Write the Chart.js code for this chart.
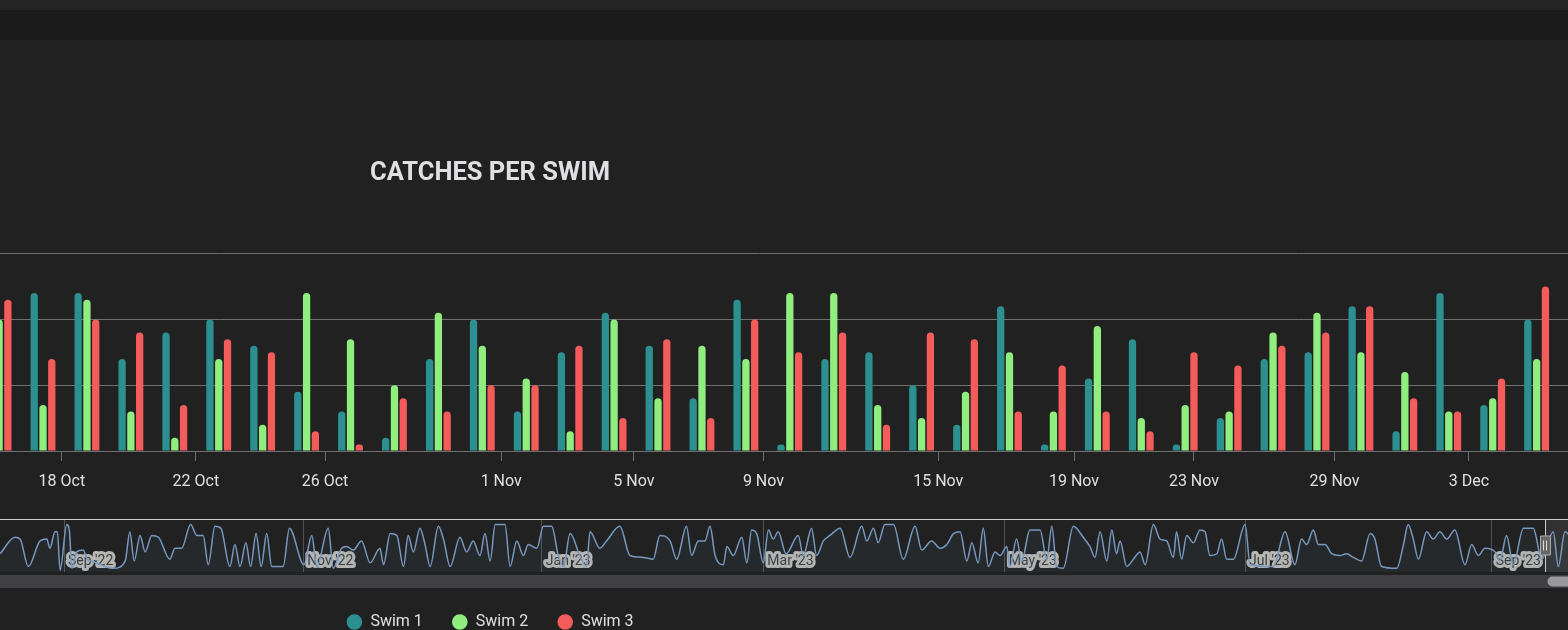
<!DOCTYPE html>
<html>
<head>
<meta charset="utf-8">
<script src="https://cdn.jsdelivr.net/npm/chart.js@4.4.1/dist/chart.umd.min.js"></script>
<style>
  html, body { margin: 0; padding: 0; width: 1568px; height: 630px; overflow: hidden; background: #212121; }
  #topStrip { position: absolute; left: 0; top: 0; width: 1568px; height: 10px; background: #252525; }
  #band { position: absolute; left: 0; top: 10px; width: 1568px; height: 30px; background: #1b1b1b; }
  #main { position: absolute; left: -588px; top: 0; }
  #nav { position: absolute; left: 0; top: 509px; }
</style>
</head>
<body>
<div id="topStrip"></div>
<div id="band"></div>
<canvas id="main" width="2156" height="640"></canvas>
<canvas id="nav" width="1568" height="81"></canvas>
<script>
// catches per swim, one value per swim day (ordinal axis: swim number)
const swim1 = [12, 24, 24, 14, 18, 20, 16, 9, 6, 2, 14, 20, 6, 15, 21, 16, 8, 23, 1, 14, 15, 10, 4, 22, 1, 11, 17, 1, 5, 14, 15, 22, 3, 24, 7, 20];
const swim2 = [20, 7, 23, 6, 2, 14, 4, 24, 17, 10, 21, 16, 11, 3, 20, 8, 16, 14, 24, 24, 7, 5, 9, 15, 6, 19, 5, 7, 6, 18, 21, 15, 12, 6, 8, 14];
const swim3 = [23, 14, 20, 18, 7, 17, 15, 3, 1, 8, 6, 10, 10, 16, 5, 17, 5, 20, 15, 18, 4, 18, 17, 6, 13, 6, 3, 15, 13, 16, 18, 22, 8, 6, 11, 25];

// date ticks, placed along the swim-number axis
const tickLabels = ['18 Oct', '22 Oct', '26 Oct', '1 Nov', '5 Nov', '9 Nov', '15 Nov', '19 Nov', '23 Nov', '29 Nov', '3 Dec'];
const tickAt = [1.43, 4.48, 7.42, 11.43, 14.45, 17.4, 21.38, 24.47, 27.2, 30.4, 33.46];

// visible window of the main chart (swim numbers)
const viewFrom = -13.364;
const viewTo = 35.714;

// navigator: [day since 1 Sep 2022, catches]
const navSeries = [
  [-16.3, 9], [-12.5, 18], [-11.2, 17], [-9.1, 2], [-6.1, 16], [-4.4, 17], [-3.6, 12], [-2.3, 21], [-1.7, 21], [-1.0, 0],
  [0.7, 25], [1.4, 21], [2.0, 1], [3.2, 10], [4.9, 11], [5.9, 6], [7.1, 5], [12.6, 1], [15.6, 5], [16.8, 21],
  [17.9, 5], [19.4, 19], [20.7, 10], [22.4, 19], [24.1, 18], [27.0, 6], [28.3, 12], [30.0, 12], [32.3, 25], [33.9, 19],
  [35.5, 19], [36.8, 3], [38.5, 24], [40.0, 23], [42.3, 2], [43.6, 14], [44.9, 2], [46.4, 15], [47.6, 2], [49.0, 20],
  [50.3, 2], [51.7, 20], [53.0, 2], [55.9, 2], [57.5, 23], [61.2, 3], [63.2, 19], [64.5, 2], [67.4, 23], [68.7, 1],
  [70.8, 12], [72.1, 13], [73.8, 11], [75.9, 16], [78.1, 4], [80.6, 12], [81.5, 3], [83.2, 20], [84.9, 19], [86.6, 2],
  [87.8, 19], [89.1, 10], [90.8, 23], [92.1, 14], [93.4, 2], [95.5, 24], [96.8, 17], [98.5, 2], [101.0, 18], [102.7, 10],
  [104.4, 16], [106.1, 8], [107.4, 20], [108.7, 5], [110.0, 25], [112.5, 25], [113.8, 2], [115.5, 16], [117.2, 8], [118.4, 14],
  [120.6, 12], [122.3, 24], [124.4, 24], [126.1, 8], [127.4, 2], [129.1, 20], [131.6, 8], [133.3, 2], [134.2, 21], [136.7, 12],
  [138.4, 16], [141.8, 24], [144.4, 8], [147.8, 7], [150.3, 6], [152.0, 19], [154.6, 16], [156.3, 6], [158.8, 24], [160.1, 8],
  [161.8, 16], [163.5, 16], [164.8, 24], [166.1, 8], [168.2, 3], [169.1, 13], [170.7, 8], [172.9, 18], [174.2, 4], [175.4, 22],
  [176.7, 20], [178.4, 4], [179.7, 22], [180.9, 17], [182.2, 21], [184.2, 9], [187.3, 19], [188.6, 8], [190.7, 23], [192.0, 8],
  [193.7, 16], [195.4, 19], [198.0, 23], [200.5, 7], [203.5, 24], [204.8, 16], [206.5, 23], [207.7, 15], [209.4, 25], [211.6, 25],
  [214.1, 6], [217.1, 24], [218.8, 11], [221.3, 16], [223.5, 12], [225.2, 14], [226.9, 20], [228.6, 21], [230.3, 5], [231.6, 15],
  [233.2, 4], [234.5, 23], [235.8, 2], [237.5, 10], [238.8, 8], [240.5, 13], [241.3, 2], [243.0, 17], [244.3, 5], [246.4, 22],
  [249.0, 22], [250.7, 6], [252.0, 24], [253.2, 2], [254.9, 1], [257.5, 24], [260.0, 18], [261.7, 13], [263.0, 7], [264.3, 21],
  [266.0, 5], [267.3, 22], [268.5, 9], [269.4, 16], [271.1, 2], [272.8, 6], [274.5, 10], [275.8, 3], [277.9, 25], [279.6, 17],
  [281.3, 16], [283.0, 7], [283.8, 21], [285.1, 6], [286.4, 19], [288.1, 15], [289.8, 22], [291.1, 21], [292.3, 8], [294.1, 9],
  [295.3, 17], [296.6, 6], [298.3, 6], [301.3, 25], [302.6, 3], [308.5, 2], [311.5, 21], [314.0, 3], [315.7, 17], [317.0, 14],
  [318.7, 22], [320.0, 14], [321.7, 14], [323.4, 9], [325.5, 8], [327.2, 9], [328.9, 7], [331.0, 5], [333.2, 20], [334.4, 17],
  [336.1, 2], [340.0, 1], [341.7, 14], [342.9, 25], [344.2, 17], [345.5, 6], [347.6, 21], [349.3, 17], [351.0, 21], [352.7, 17],
  [354.8, 22], [357.4, 3], [359.1, 14], [360.8, 8], [362.5, 12], [365.1, 10], [366.3, 5], [368.0, 19], [369.7, 3], [372.3, 23],
  [374.8, 23], [377.0, 6], [379.9, 21], [381.2, 2], [382.9, 21], [385.5, 14]
];
const navMonthLabels = ["Sep '22", "Nov '22", "Jan '23", "Mar '23", "May '23", "Jul '23", "Sep '23"];
const navMonthAt = [0, 61, 121.9, 178.4, 240, 301.3, 364.2];
const navFrom = -16.33;
const navTo = 383.67;
const navRangeStart = 377.9;

Chart.defaults.font.family = "Roboto, 'Noto Sans', sans-serif";

function toPoints(vals) {
  return vals.map((v, i) => ({ x: i, y: v }));
}

new Chart('main', {
  type: 'bar',
  data: {
    datasets: [
      { label: 'Swim 1', data: toPoints(swim1), backgroundColor: '#2b908f' },
      { label: 'Swim 2', data: toPoints(swim2), backgroundColor: '#90ee7e' },
      { label: 'Swim 3', data: toPoints(swim3), backgroundColor: '#f45b5b' }
    ]
  },
  options: {
    responsive: false,
    animation: false,
    devicePixelRatio: 1,
    layout: { padding: 0 },
    datasets: {
      bar: { categoryPercentage: 0.6, barPercentage: 0.83, borderRadius: 4, borderSkipped: 'start' }
    },
    plugins: {
      title: {
        display: true,
        text: 'CATCHES PER SWIM',
        color: '#E0E0E3',
        font: { size: 25.5, weight: 'bold' },
        padding: { top: 158, bottom: 65 }
      },
      legend: {
        position: 'bottom',
        labels: {
          usePointStyle: true, pointStyle: 'circle',
          boxWidth: 16, boxHeight: 11, padding: 29,
          color: '#E0E0E3', font: { size: 16 }
        }
      },
      tooltip: { enabled: false }
    },
    scales: {
      x: {
        type: 'linear',
        min: viewFrom,
        max: viewTo,
        offset: false,
        grid: { display: true, offset: false, drawOnChartArea: false, drawTicks: true, tickLength: 10, color: '#707073' },
        border: { display: true, color: '#707073' },
        ticks: {
          autoSkip: false, maxRotation: 0, padding: 11,
          color: '#E0E0E3', font: { size: 16 },
          callback: (v, i) => tickLabels[i]
        },
        afterBuildTicks: s => { s.ticks = tickAt.map(v => ({ value: v })); },
        afterFit: s => { s.height = 134; }
      },
      y: {
        min: 0,
        max: 30,
        ticks: { display: false, stepSize: 10 },
        grid: { color: '#707073', drawTicks: false },
        border: { display: false }
      }
    }
  }
});

// navigator mask, outline, handle and scrollbar
const navDecor = {
  id: 'navDecor',
  beforeDraw(chart) {
    chart.ctx.lineJoin = 'round';
  },
  beforeDatasetsDraw(chart) {
    const { ctx, chartArea: a, scales: { x } } = chart;
    const hx = Math.round(x.getPixelForValue(navRangeStart)) + 0.5;
    ctx.save();
    ctx.fillStyle = 'rgba(255,255,255,0.08)';
    ctx.fillRect(hx, a.top, a.right - hx, a.bottom - a.top);
    ctx.restore();
  },
  afterDraw(chart) {
    const { ctx, chartArea: a, scales: { x } } = chart;
    const hx = Math.round(x.getPixelForValue(navRangeStart)) + 0.5;
    const mid = (a.top + a.bottom) / 2;
    ctx.save();
    ctx.strokeStyle = '#cccccc';
    ctx.lineWidth = 1;
    ctx.beginPath();
    ctx.moveTo(a.left, a.top + 0.5);
    ctx.lineTo(a.right, a.top + 0.5);
    ctx.moveTo(hx, a.top);
    ctx.lineTo(hx, a.bottom);
    ctx.stroke();

    ctx.fillStyle = '#666666';
    ctx.strokeStyle = '#aaaaaa';
    ctx.fillRect(hx - 5, mid - 9.5, 10, 19);
    ctx.strokeRect(hx - 5, mid - 9.5, 10, 19);
    ctx.strokeStyle = '#dddddd';
    ctx.beginPath();
    ctx.moveTo(hx - 2, mid - 5); ctx.lineTo(hx - 2, mid + 5);
    ctx.moveTo(hx + 1, mid - 5); ctx.lineTo(hx + 1, mid + 5);
    ctx.stroke();

    ctx.fillStyle = '#404043';
    ctx.fillRect(a.left, a.bottom + 3, a.right - a.left, 13);
    ctx.fillStyle = '#9a9a9d';
    ctx.beginPath();
    ctx.roundRect(hx + 2, a.bottom + 4.5, a.right - hx + 10, 10, 5);
    ctx.fill();
    ctx.restore();
  }
};

new Chart('nav', {
  type: 'line',
  data: {
    datasets: [{
      data: navSeries.map(p => ({ x: p[0], y: p[1] })),
      borderColor: '#7798BF',
      borderWidth: 1.5,
      backgroundColor: 'rgba(119,152,191,0.07)',
      fill: 'start',
      pointRadius: 0,
      cubicInterpolationMode: 'monotone'
    }]
  },
  options: {
    responsive: false,
    animation: false,
    devicePixelRatio: 1,
    layout: { padding: { top: 10, bottom: 18, left: 0, right: 0 } },
    plugins: { legend: { display: false }, title: { display: false }, tooltip: { enabled: false } },
    scales: {
      x: {
        type: 'linear',
        min: navFrom,
        max: navTo,
        z: 1,
        grid: { color: '#505053', drawTicks: false },
        border: { display: false },
        ticks: {
          mirror: true, align: 'start', labelOffset: 4, padding: 2,
          autoSkip: false, maxRotation: 0,
          color: '#3a3a3a', textStrokeColor: '#b6b6b2', textStrokeWidth: 6,
          font: { size: 14 },
          callback: (v, i) => navMonthLabels[i]
        },
        afterBuildTicks: s => { s.ticks = navMonthAt.map(v => ({ value: v })); },
        afterFit: s => { s.height = 0; }
      },
      y: { display: false, min: -1, max: 28 }
    }
  },
  plugins: [navDecor]
});
</script>
</body>
</html>
